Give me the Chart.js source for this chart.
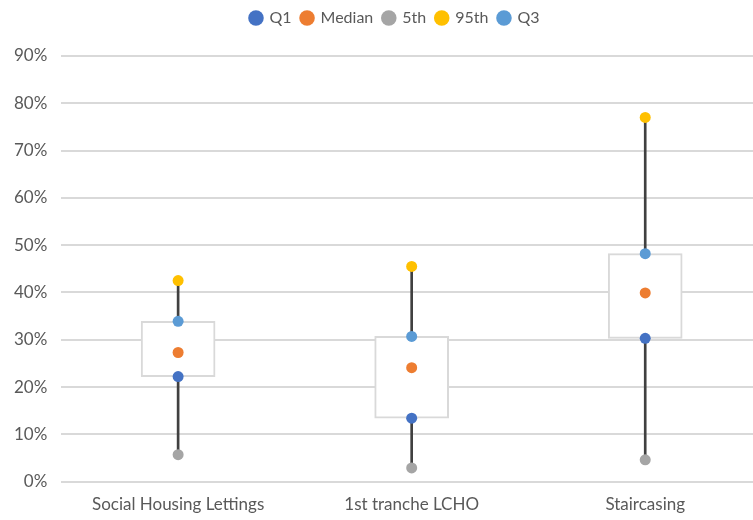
<!DOCTYPE html>
<html>
<head>
<meta charset="utf-8">
<script src="https://cdn.jsdelivr.net/npm/chart.js@4/dist/chart.umd.min.js"></script>
<style>
  html, body { margin: 0; padding: 0; background: #fff; overflow: hidden; }
  #clip { width: 753px; height: 520px; overflow: hidden; }
  #wrap { width: 790px; height: 520px; }
</style>
</head>
<body>
<div id="clip"><div id="wrap"><canvas id="myChart"></canvas></div></div>
<script>
const categories = ['Social Housing Lettings', '1st tranche LCHO', 'Staircasing']
const p5 = [5.7, 2.9, 4.6]
const q1 = [22.2, 13.4, 30.3]
const median = [27.3, 24.1, 39.9]
const q3 = [33.9, 30.7, 48.2]
const p95 = [42.5, 45.5, 77.0]
const yTicks = [0, 10, 20, 30, 40, 50, 60, 70, 80, 90]

const grey = '#595959'
const family = 'Lato, "Liberation Sans", sans-serif'

function pointSet(label, data, color) {
    return {
        type: 'line',
        label: label,
        data: data,
        showLine: false,
        pointRadius: 5.5,
        pointHoverRadius: 5.5,
        pointBorderWidth: 0,
        backgroundColor: color,
        borderColor: color,
        order: 0
    }
}

// push the plot area down below the legend
const legendGap = {
    id: 'legendGap',
    beforeInit(chart) {
        const fit = chart.legend.fit
        chart.legend.fit = function () {
            fit.bind(chart.legend)()
            this.height = 56
        }
    }
}

const ctx = document.getElementById('myChart').getContext('2d')
const myChart = new Chart(ctx, {
    type: 'bar',
    data: {
        labels: categories,
        datasets: [
            pointSet('Q1', q1, '#4472C4'),
            pointSet('Median', median, '#ED7D31'),
            pointSet('5th', p5, '#A5A5A5'),
            pointSet('95th', p95, '#FFC000'),
            pointSet('Q3', q3, '#5B9BD5'),
            {
                label: 'box',
                data: q1.map((v, i) => [v, q3[i]]),
                backgroundColor: '#ffffff',
                borderColor: '#d9d9d9',
                borderWidth: 2,
                borderSkipped: false,
                barThickness: 74,
                grouped: false,
                order: 1
            },
            {
                label: 'whisker',
                data: p5.map((v, i) => [v, p95[i]]),
                backgroundColor: '#404040',
                borderWidth: 0,
                barThickness: 2,
                grouped: false,
                order: 2
            }
        ]
    },
    plugins: [legendGap],
    options: {
        responsive: true,
        maintainAspectRatio: false,
        animation: false,
        layout: { padding: { left: 0, right: 0, top: 0, bottom: -8 } },
        plugins: {
            tooltip: { enabled: false },
            legend: {
                position: 'top',
                labels: {
                    usePointStyle: true,
                    pointStyle: 'circle',
                    boxWidth: 11,
                    boxHeight: 11,
                    color: grey,
                    font: { family: family, size: 16 },
                    padding: 10,
                    filter: item => item.text !== 'box' && item.text !== 'whisker'
                }
            }
        },
        scales: {
            x: {
                grid: { display: false, drawTicks: false },
                border: { display: false },
                ticks: { color: grey, font: { family: family, size: 17 }, padding: 13 }
            },
            y: {
                min: 0,
                max: 90,
                afterBuildTicks: axis => { axis.ticks = yTicks.map(v => ({ value: v })) },
                grid: { color: '#d9d9d9', lineWidth: 2, drawTicks: false },
                border: { display: false },
                ticks: {
                    color: grey,
                    font: { family: family, size: 17 },
                    padding: 14,
                    callback: v => v + '%'
                }
            },
            // empty axis on the right, only keeps some room there
            y2: {
                position: 'right',
                grid: { display: false, drawTicks: false },
                border: { display: false },
                ticks: { display: false },
                afterFit: s => { s.width = 28 }
            }
        }
    }
})
</script>
</body>
</html>
